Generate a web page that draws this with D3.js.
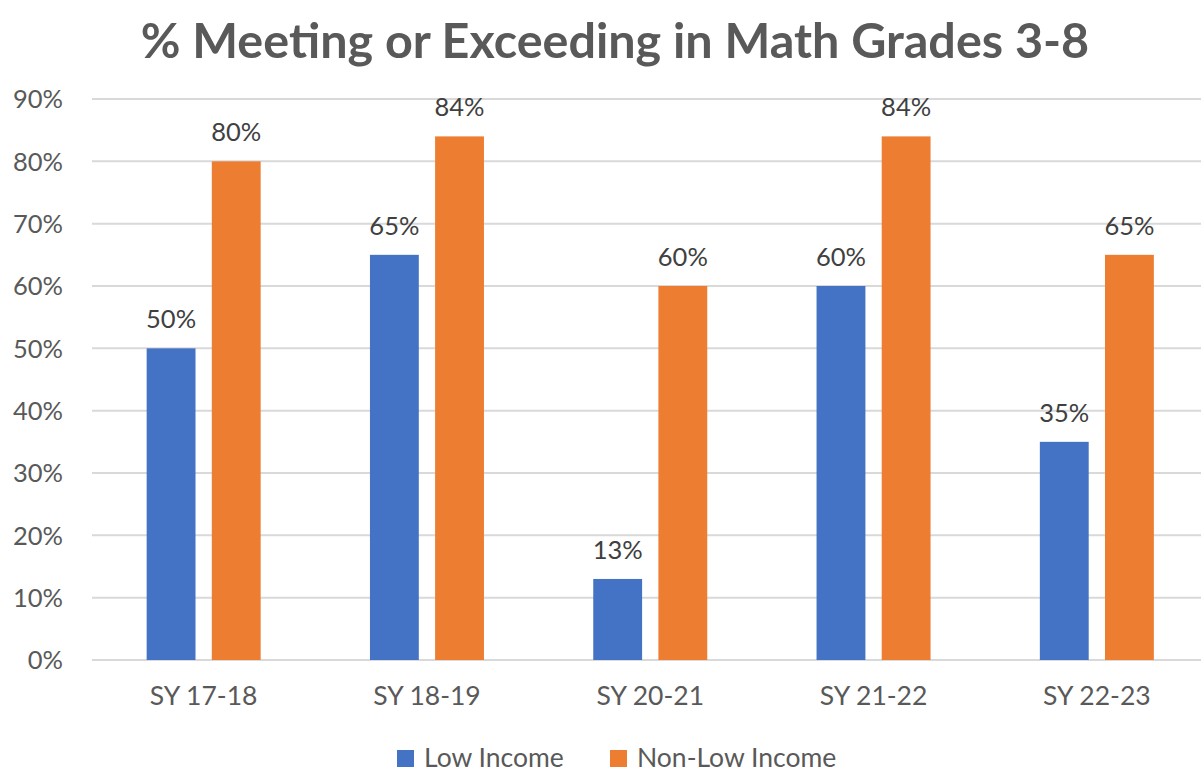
<!DOCTYPE html>
<html>
<head>
<meta charset="utf-8">
<script src="https://cdn.jsdelivr.net/npm/d3@7"></script>
<style>
  body { margin: 0; background: #fff; }
  text { font-family: Lato, "Open Sans", sans-serif; }
</style>
</head>
<body>
<svg id="chart" width="1201" height="773"></svg>
<script>
// data
var categories = ["SY 17-18", "SY 18-19", "SY 20-21", "SY 21-22", "SY 22-23"];
var seriesNames = ["Low Income", "Non-Low Income"];
var lowIncome = [50, 65, 13, 60, 35];
var nonLowIncome = [80, 84, 60, 84, 65];
var yTicks = [0, 10, 20, 30, 40, 50, 60, 70, 80, 90];
var colors = ["#4472C4", "#ED7D31"];

var svg = d3.select("#chart");
var W = 1201, H = 773;
var margin = {left: 92, right: -7.5, top: 99, bottom: 113};

var x = d3.scaleBand()
    .domain(categories)
    .range([margin.left, W - margin.right])
    .paddingInner(0).paddingOuter(0);

var x1 = d3.scaleBand()
    .domain(seriesNames)
    .range([0, 114])
    .paddingInner(0.25);

var y = d3.scaleLinear()
    .domain([0, 90])
    .range([H - margin.bottom, margin.top]);

// title
svg.append("text")
    .attr("x", 615).attr("y", 58)
    .attr("text-anchor", "middle")
    .attr("font-size", 48.5).attr("font-weight", "bold")
    .attr("fill", "#595959")
    .text("% Meeting or Exceeding in Math Grades 3-8");

// gridlines
svg.append("g").selectAll("line")
    .data(yTicks)
    .enter().append("line")
    .attr("x1", margin.left).attr("x2", W)
    .attr("y1", function(d) { return y(d); })
    .attr("y2", function(d) { return y(d); })
    .attr("stroke", "#d9d9d9").attr("stroke-width", 2);

// y axis labels
var yAxis = d3.axisLeft(y).tickValues(yTicks)
    .tickFormat(function(d) { return d + "%"; })
    .tickSize(0).tickPadding(29);
var gy = svg.append("g").attr("transform", "translate(" + margin.left + ",0)").call(yAxis);
gy.select(".domain").remove();
gy.selectAll("text").attr("font-size", 25.5).attr("fill", "#595959")
    .attr("font-family", "Lato, sans-serif").attr("dy", "0.35em");

// x axis labels
var xAxis = d3.axisBottom(x).tickSize(0).tickPadding(26);
var gx = svg.append("g").attr("transform", "translate(0," + y(0) + ")").call(xAxis);
gx.select(".domain").remove();
gx.selectAll("text").attr("font-size", 26.5).attr("fill", "#595959")
    .attr("font-family", "Lato, sans-serif");

// bars
var rows = categories.map(function(c, i) {
  return {cat: c, vals: [lowIncome[i], nonLowIncome[i]]};
});

var groups = svg.append("g").selectAll("g")
    .data(rows)
    .enter().append("g")
    .attr("transform", function(d) {
      return "translate(" + (x(d.cat) + x.bandwidth() / 2 - 57) + ",0)";
    });

groups.selectAll("rect")
    .data(function(d) { return d.vals.map(function(v, j) { return {name: seriesNames[j], v: v, j: j}; }); })
    .enter().append("rect")
    .attr("x", function(d) { return x1(d.name); })
    .attr("width", x1.bandwidth())
    .attr("y", function(d) { return y(d.v); })
    .attr("height", function(d) { return y(0) - y(d.v); })
    .attr("fill", function(d) { return colors[d.j]; });

groups.selectAll("text.lbl")
    .data(function(d) { return d.vals.map(function(v, j) { return {name: seriesNames[j], v: v}; }); })
    .enter().append("text")
    .attr("class", "lbl")
    .attr("x", function(d) { return x1(d.name) + x1.bandwidth() / 2; })
    .attr("y", function(d) { return y(d.v) - 20; })
    .attr("text-anchor", "middle")
    .attr("font-size", 25.5).attr("fill", "#404040")
    .text(function(d) { return d.v + "%"; });

// legend
var legendX = [397, 610];
var leg = svg.append("g").selectAll("g")
    .data(seriesNames)
    .enter().append("g")
    .attr("transform", function(d, i) { return "translate(" + legendX[i] + ",750)"; });
leg.append("rect").attr("width", 17).attr("height", 17)
    .attr("fill", function(d, i) { return colors[i]; });
leg.append("text").attr("x", 27).attr("y", 17)
    .attr("font-size", 26.5).attr("fill", "#595959")
    .text(function(d) { return d; });
</script>
</body>
</html>
